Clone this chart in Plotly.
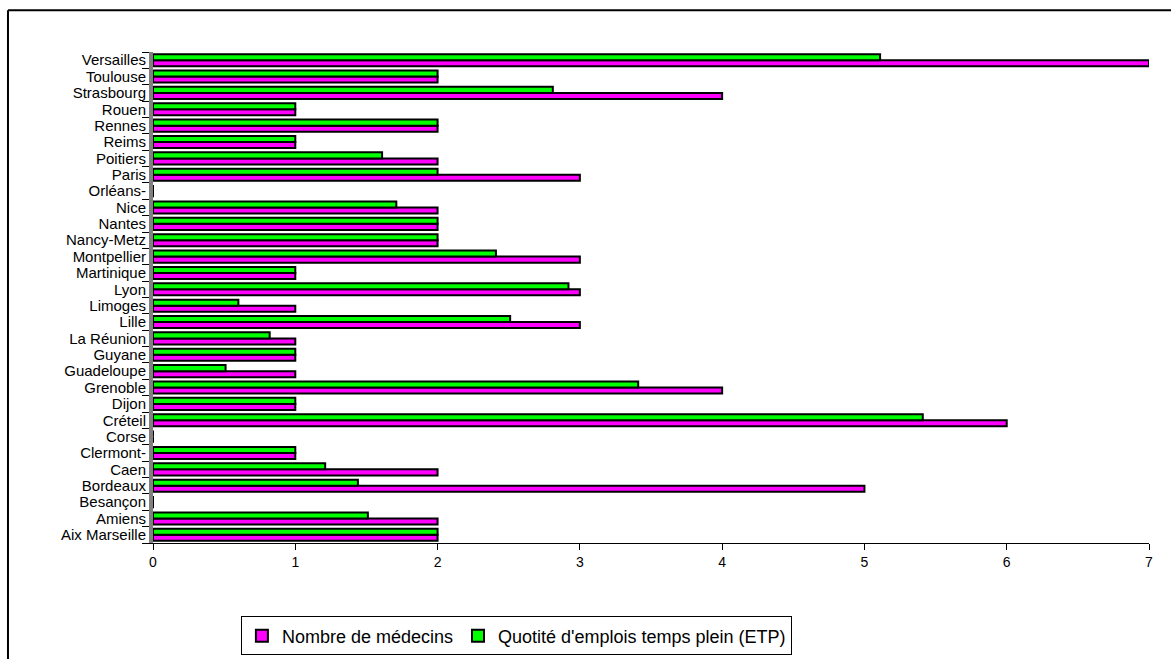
import plotly.graph_objects as go

# Académies, listed bottom-to-top as drawn on the category axis
academies = [
    "Aix Marseille", "Amiens", "Besançon", "Bordeaux", "Caen", "Clermont-",
    "Corse", "Créteil", "Dijon", "Grenoble", "Guadeloupe", "Guyane",
    "La Réunion", "Lille", "Limoges", "Lyon", "Martinique", "Montpellier",
    "Nancy-Metz", "Nantes", "Nice", "Orléans-", "Paris", "Poitiers",
    "Reims", "Rennes", "Rouen", "Strasbourg", "Toulouse", "Versailles",
]

nombre_medecins = [
    2, 2, 0, 5, 2, 1,
    0, 6, 1, 4, 1, 1,
    1, 3, 1, 3, 1, 3,
    2, 2, 2, 0, 3, 2,
    1, 2, 1, 4, 2, 7,
]

quotite_etp = [
    2, 1.51, 0, 1.44, 1.21, 1,
    0, 5.41, 1, 3.41, 0.51, 1,
    0.82, 2.51, 0.6, 2.92, 1, 2.41,
    2, 2, 1.71, 0, 2, 1.61,
    1, 2, 1, 2.81, 2, 5.11,
]

x_ticks = [0, 1, 2, 3, 4, 5, 6, 7]

FONT = "Liberation Sans, Arial, sans-serif"

fig = go.Figure()
fig.add_trace(go.Bar(
    y=academies, x=nombre_medecins, orientation="h",
    name="Nombre de médecins",
    marker=dict(color="#FF00FF", line=dict(color="black", width=2)),
))
fig.add_trace(go.Bar(
    y=academies, x=quotite_etp, orientation="h",
    name="Quotité d'emplois temps plein (ETP)",
    marker=dict(color="#00FF00", line=dict(color="black", width=2)),
))

fig.update_layout(
    width=1171, height=659,
    margin=dict(l=153, r=22, t=52, b=116),
    paper_bgcolor="white", plot_bgcolor="white",
    barmode="group", bargap=0.26, bargroupgap=0.0,
    font=dict(family=FONT, color="black"),
    showlegend=True,
    legend=dict(
        orientation="h",
        xref="container", yref="container",
        x=0.441, xanchor="center",
        y=0.035, yanchor="middle",
        bordercolor="black", borderwidth=1, bgcolor="white",
        font=dict(size=18, family=FONT),
        traceorder="normal",
        itemwidth=30,
    ),
    xaxis=dict(
        range=[0, 7], tickvals=x_ticks, ticktext=[str(v) for v in x_ticks],
        showgrid=False, zeroline=False,
        showline=True, linecolor="black", linewidth=1,
        ticks="outside", ticklen=6, tickcolor="black",
        tickfont=dict(size=14, family=FONT),
        fixedrange=True,
    ),
    yaxis=dict(
        type="category", categoryorder="array", categoryarray=academies,
        tickmode="array", tickvals=academies, ticktext=academies,
        showgrid=False, zeroline=False,
        showline=True, linecolor="#808080", linewidth=4,
        ticks="outside", ticklen=7, tickcolor="black", tickson="boundaries",
        tickfont=dict(size=15, family=FONT),
        fixedrange=True,
    ),
    shapes=[
        # frame around the chart area (top and left edges visible)
        dict(type="line", xref="paper", yref="paper",
             x0=-0.1456, x1=1.03, y0=1.085, y1=1.085,
             line=dict(color="black", width=2)),
        dict(type="line", xref="paper", yref="paper",
             x0=-0.1456, x1=-0.1456, y0=1.085, y1=-0.26,
             line=dict(color="black", width=2)),
    ],
)

fig.write_html("out.html")
